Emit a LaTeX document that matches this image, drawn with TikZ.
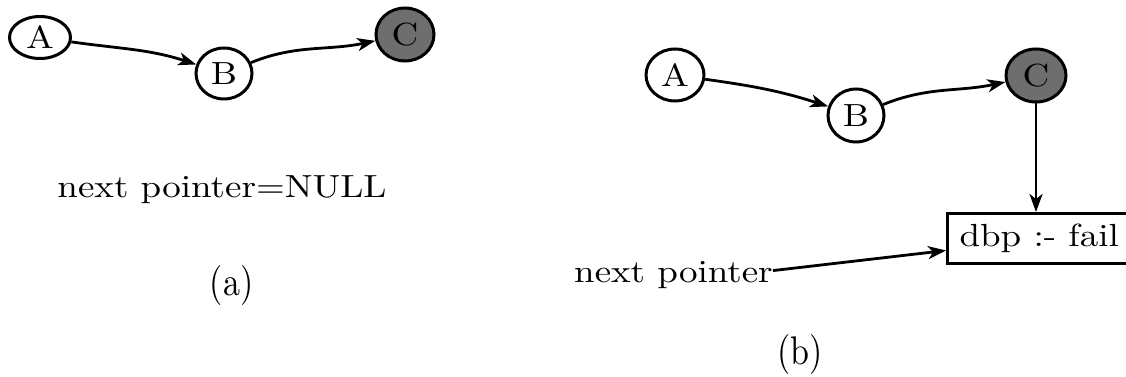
\documentclass[tikz,border=0pt]{standalone}
\usetikzlibrary{arrows.meta,shapes.geometric}
\definecolor{cgray}{HTML}{6E6E6E}
% large text, widened a little
\newcommand\bigtxt[1]{\scalebox{3.7}[3.2]{#1}}
\newcommand\captxt[1]{\scalebox{3.4}[4.0]{#1}}
\begin{document}
\begin{tikzpicture}[x=1pt,y=1pt,
  state/.style={ellipse, draw, line width=3pt, inner sep=0pt},
  final/.style={state, fill=cgray},
  link/.style={line width=2.8pt, -{Stealth[length=18pt,width=13pt,inset=5pt]}},
  plain/.style={inner sep=0pt}]
\useasboundingbox (0,0) rectangle (1126,-377);

% (a) list ending with a NULL pointer
\node[state, minimum width=61pt, minimum height=42pt] (a1) at (40,-37.5) {\bigtxt{A}};
\node[state, minimum width=56pt, minimum height=51pt] (a2) at (224,-73.5) {\bigtxt{B}};
\node[final, minimum width=58pt, minimum height=53pt] (a3) at (405,-34.5) {\bigtxt{C}};
\draw[link] (a1) to[out=-8,in=162] (a2);
\draw[link] (a2) to[out=22,in=192] (a3);
\node[plain, anchor=base] (nulltxt) at (222,-197) {\bigtxt{next pointer=NULL}};
\node[plain] (capa) at (231.5,-285) {\captxt{(a)}};

% (b) list ending in a failing clause
\node[state, minimum width=58pt, minimum height=52pt] (b1) at (675,-75) {\bigtxt{A}};
\node[state, minimum width=56pt, minimum height=53pt] (b2) at (856,-115.5) {\bigtxt{B}};
\node[final, minimum width=60pt, minimum height=53pt] (b3) at (1036,-75.5) {\bigtxt{C}};
\draw[link] (b1) to[out=-8,in=162] (b2);
\draw[link] (b2) to[out=22,in=192] (b3);
\node[draw, line width=3pt, anchor=north west, minimum height=50pt,
      text width=166pt, inner xsep=12pt, align=left] (box) at (946,-212) {\bigtxt{dbp :- fail}};
\draw[link] (b3.south) -- (b3.south |- box.north);
\node[plain, anchor=base west] (np) at (574,-282) {\bigtxt{next pointer}};
\draw[link] ([yshift=4pt]np.east) -- ([yshift=-12pt]box.west);
\node[plain] (capb) at (800,-354.5) {\captxt{(b)}};
\end{tikzpicture}
\end{document}
